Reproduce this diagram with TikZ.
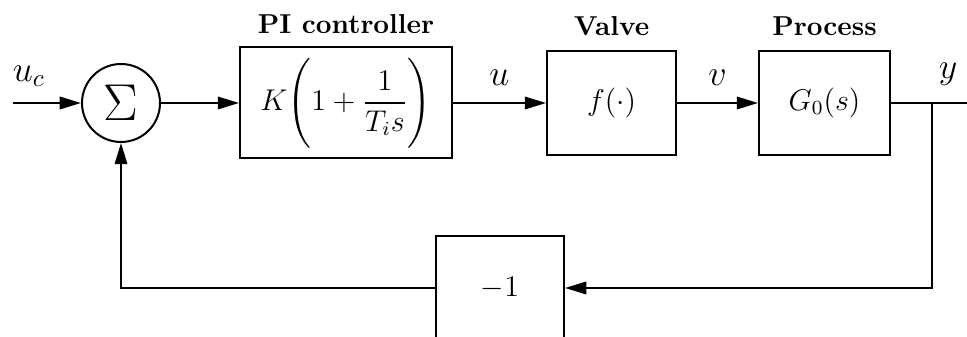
\documentclass[tikz,border=0pt,11pt]{standalone}
\usepackage{amsmath}
\usetikzlibrary{arrows.meta,positioning}

\begin{document}
\begin{tikzpicture}[x=0.4pt, y=-0.4pt, line width=0.8pt,
  >={Triangle[length=8.5pt,width=5pt]},
  block/.style={draw, minimum width=52pt, minimum height=41.6pt, font=\large},
  sig/.style={font=\Large},
  title/.style={font=\bfseries, inner sep=1pt}]
\useasboundingbox (0,0) rectangle (967,337);
\node[circle, draw, minimum size=31.2pt, inner sep=0pt, font=\huge] (sum) at (121,103) {$\Sigma$};
\node[block, minimum width=84.8pt, minimum height=44.4pt, right=31.2pt of sum] (pi) {$K\Bigg(1+\dfrac{1}{T_i s}\Bigg)$};
\node[block, minimum width=51.6pt, right=37.2pt of pi] (valve) {$f(\cdot)$};
\node[block, minimum width=52.4pt, right=32.4pt of valve] (proc) {$G_0(s)$};
\node[block, minimum width=51.2pt] (neg) at (500,288) {$-1$};

\node[title, above=3.9pt of pi] (pilab) {PI controller};
\node[title, above=4.5pt of valve] (valvelab) {Valve};
\node[title, above=4.2pt of proc] (proclab) {Process};

\coordinate (uin) at (13,103);
\coordinate (br) at (932,103);
\coordinate (yout) at (967,103);

\draw[->] (uin) node[sig, above right, inner sep=1pt, yshift=5pt, xshift=-1.5pt] {$u_c$} -- (sum);
\draw[->] (sum) -- (pi);
\draw[->] (pi) -- node[sig, above=3pt] {$u$} (valve);
\draw[->] (valve) -- node[sig, above=3pt] {$v$} (proc);
\draw (proc) -- node[sig, above=3pt, pos=0.75] {$y$} (yout);
\draw[->] (br) |- (neg);
\draw[->] (neg) -| (sum);
\end{tikzpicture}
\end{document}
